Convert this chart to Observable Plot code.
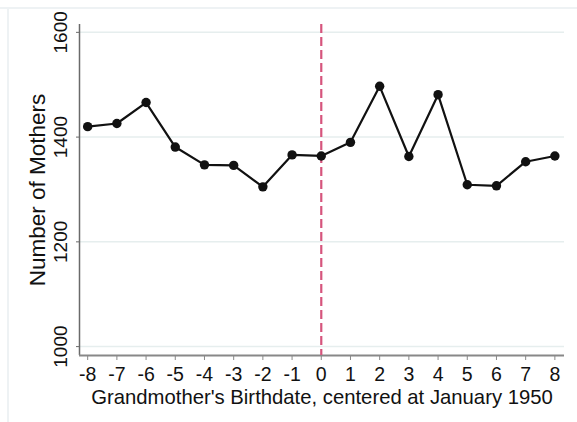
<!DOCTYPE html>
<html>
<head>
<meta charset="utf-8">
<script src="https://cdn.jsdelivr.net/npm/d3@7"></script>
<script src="https://cdn.jsdelivr.net/npm/@observablehq/plot@0.6"></script>
<style>
  html, body { margin: 0; padding: 0; background: #fff; }
  #wrap { position: relative; width: 577px; height: 422px; overflow: hidden; font-family: "Liberation Sans", Arial, sans-serif; }
  #wrap svg { position: absolute; left: 0; top: 0; }
  .edge-top { position: absolute; left: 0; top: 7px; width: 577px; height: 2px; background: #eef2f4; }
  .edge-left { position: absolute; left: 7px; top: 7px; width: 2px; height: 415px; background: #eef2f4; }
</style>
</head>
<body>
<div id="wrap"><div class="edge-top"></div><div class="edge-left"></div></div>
<script>
const months = [-8,-7,-6,-5,-4,-3,-2,-1,0,1,2,3,4,5,6,7,8];
const mothers = [1420,1426,1466,1381,1347,1346,1305,1366,1364,1390,1497,1363,1481,1309,1307,1353,1364];
const yTicks = [1000,1200,1400,1600];
const xTicks = months;
const xDomain = [-8.28, 8.33];
const yDomain = [983, 1615];
const cutoff = [0];
const xLabel = "Grandmother's Birthdate, centered at January 1950";
const yLabel = "Number of Mothers";

const data = months.map((m, i) => ({month: m, n: mothers[i]}));

const chart = Plot.plot({
  width: 577,
  height: 422,
  marginLeft: 79,
  marginRight: 13,
  marginTop: 24,
  marginBottom: 67,
  style: {fontFamily: "'Liberation Sans', Arial, sans-serif", background: "transparent", color: "#111"},
  x: {domain: xDomain},
  y: {domain: yDomain},
  marks: [
    Plot.gridY(yTicks, {stroke: "#e6eeee", strokeOpacity: 1, strokeWidth: 1.5}),
    Plot.ruleX([xDomain[0]], {stroke: "#6a6a6a", strokeWidth: 1.5}),
    Plot.ruleY([yDomain[0]], {stroke: "#888", strokeWidth: 2}),
    Plot.axisY({ticks: yTicks, tickSize: 3, tickFormat: () => "", stroke: "#6a6a6a", label: null}),
    Plot.text(yTicks, {frameAnchor: "left", y: d => d, text: d => String(d), rotate: -90, dx: -18.5, textAnchor: "middle", lineAnchor: "middle", fontSize: 19, fill: "#111"}),
    Plot.axisX({ticks: xTicks, tickSize: 5, tickPadding: 7, fontSize: 19.5, stroke: "#888", fill: "#111", label: null, tickFormat: d => String(d).replace("−", "-")}),
    Plot.ruleX(cutoff, {stroke: "#d6557d", strokeWidth: 2.2, strokeDasharray: "9,4"}),
    Plot.line(data, {x: "month", y: "n", stroke: "#111", strokeWidth: 2.2}),
    Plot.dot(data, {x: "month", y: "n", r: 4.7, fill: "#111", stroke: "none"}),
    Plot.text([yLabel], {frameAnchor: "left", text: d => d, rotate: -90, dx: -42, textAnchor: "middle", lineAnchor: "middle", fontSize: 22.5, fill: "#111"}),
    Plot.text([xLabel], {frameAnchor: "bottom", text: d => d, dy: 42, textAnchor: "middle", lineAnchor: "middle", fontSize: 20.3, fill: "#111"})
  ]
});
document.getElementById("wrap").appendChild(chart);
</script>
</body>
</html>
